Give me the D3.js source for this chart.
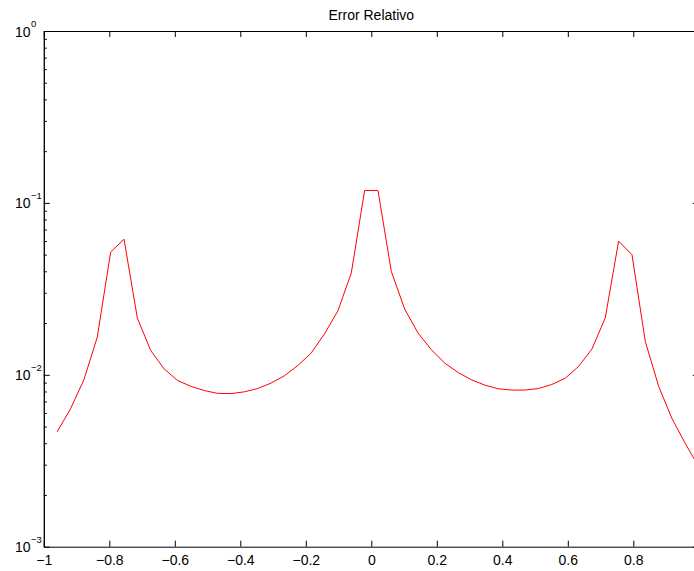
<!DOCTYPE html>
<html>
<head>
<meta charset="utf-8">
<script src="https://cdn.jsdelivr.net/npm/d3@7"></script>
<style>
  html, body { margin: 0; padding: 0; background: #fff; }
  svg { display: block; font-family: "Liberation Sans", Arial, Helvetica, sans-serif; }
</style>
</head>
<body>
<svg id="chart" width="694" height="571"></svg>
<script>
// Sample points x_k = -1 + 2k/49 (k = 1..49)
const xs = [
  -0.9592, -0.9184, -0.8776, -0.8367, -0.7959, -0.7551, -0.7143, -0.6735,
  -0.6327, -0.5918, -0.5510, -0.5102, -0.4694, -0.4286, -0.3878, -0.3469,
  -0.3061, -0.2653, -0.2245, -0.1837, -0.1429, -0.1020, -0.0612, -0.0204,
   0.0204,  0.0612,  0.1020,  0.1429,  0.1837,  0.2245,  0.2653,  0.3061,
   0.3469,  0.3878,  0.4286,  0.4694,  0.5102,  0.5510,  0.5918,  0.6327,
   0.6735,  0.7143,  0.7551,  0.7959,  0.8367,  0.8776,  0.9184,  0.9592,
   1.0000
];
// Relative error at each sample
const relErr = [
  0.00466, 0.00634, 0.00935, 0.01657, 0.0517, 0.0615, 0.02137, 0.01384,
  0.01083, 0.00927, 0.00857, 0.00810, 0.00780, 0.00777, 0.00796, 0.00832,
  0.00895, 0.00987, 0.01132, 0.01337, 0.01731, 0.02356, 0.0390, 0.1180,
  0.1180, 0.0399, 0.0241, 0.01748, 0.01397, 0.01169, 0.01031, 0.00935,
  0.00871, 0.00829, 0.00815, 0.00815, 0.00832, 0.00878, 0.00954, 0.01118,
  0.01410, 0.02137, 0.0599, 0.0500, 0.01562, 0.00855, 0.00555, 0.00397,
  0.00291
];
const xTicks = [-1, -0.8, -0.6, -0.4, -0.2, 0, 0.2, 0.4, 0.6, 0.8];
const yDecades = [1e-3, 1e-2, 1e-1, 1];
const yExponents = ["−3", "−2", "−1", "0"];
const titleText = "Error Relativo";

const svg = d3.select("#chart");
const plotLeft = 43.8, plotRight = 698.8, plotTop = 31, plotBottom = 546.7;

const x = d3.scaleLinear().domain([-1, 1]).range([plotLeft, plotRight]);
const y = d3.scaleLog().domain([1e-3, 1]).range([plotBottom, plotTop]);

// minor log ticks 2..9 within each decade
const yMinor = [];
for (let i = 0; i < yDecades.length - 1; i++) {
  for (let m = 2; m <= 9; m++) yMinor.push(yDecades[i] * m);
}

function styleAxis(g) {
  g.select(".domain").attr("stroke", "#000").attr("stroke-width", 1);
  g.selectAll(".tick line").attr("stroke", "#000").attr("stroke-width", 1);
}

// Bottom axis with labels
const fmt = d3.format("~g");
svg.append("g")
  .attr("transform", `translate(0,${plotBottom})`)
  .call(d3.axisBottom(x).tickValues(xTicks).tickSizeInner(-6).tickSizeOuter(0)
        .tickPadding(8).tickFormat(d => d === 0 ? "0" : fmt(d)))
  .call(styleAxis)
  .call(g => g.selectAll("text").attr("font-size", 14).attr("fill", "#000")
        .attr("font-family", "Liberation Sans, Arial, sans-serif"));

// Top axis (ticks only)
svg.append("g")
  .attr("transform", `translate(0,${plotTop})`)
  .call(d3.axisTop(x).tickValues(xTicks).tickSizeInner(-6).tickSizeOuter(0).tickFormat(""))
  .call(styleAxis);

// Left axis: major and minor ticks
svg.append("g")
  .attr("transform", `translate(${plotLeft},0)`)
  .call(d3.axisLeft(y).tickValues(yDecades).tickSizeInner(-6).tickSizeOuter(0).tickFormat(""))
  .call(styleAxis);
svg.append("g")
  .attr("transform", `translate(${plotLeft},0)`)
  .call(d3.axisLeft(y).tickValues(yMinor).tickSizeInner(-3).tickSizeOuter(0).tickFormat(""))
  .call(styleAxis);

// Right axis: major and minor ticks
svg.append("g")
  .attr("transform", `translate(${plotRight},0)`)
  .call(d3.axisRight(y).tickValues(yDecades).tickSizeInner(-6).tickSizeOuter(0).tickFormat(""))
  .call(styleAxis);
svg.append("g")
  .attr("transform", `translate(${plotRight},0)`)
  .call(d3.axisRight(y).tickValues(yMinor).tickSizeInner(-3).tickSizeOuter(0).tickFormat(""))
  .call(styleAxis);

// Power-of-ten labels on the left
const yLab = svg.append("g").attr("font-size", 14).attr("fill", "#000");
yDecades.forEach((v, i) => {
  yLab.append("text").attr("x", 30.5).attr("y", y(v) + 5.5)
    .attr("text-anchor", "end").text("10");
  yLab.append("text").attr("x", 31).attr("y", y(v) - 4)
    .attr("font-size", 9.5).attr("text-anchor", "start").text(yExponents[i]);
});

// Title
svg.append("text")
  .attr("x", x(0))
  .attr("y", 19.5)
  .attr("text-anchor", "middle")
  .attr("font-size", 14)
  .attr("fill", "#000")
  .text(titleText);

// Error curve
const data = xs.map((v, i) => [v, relErr[i]]);
svg.append("path")
  .datum(data)
  .attr("fill", "none")
  .attr("stroke", "#ff0000")
  .attr("stroke-width", 1)
  .attr("stroke-linejoin", "miter")
  .attr("d", d3.line().x(d => x(d[0])).y(d => y(d[1])));
</script>
</body>
</html>
